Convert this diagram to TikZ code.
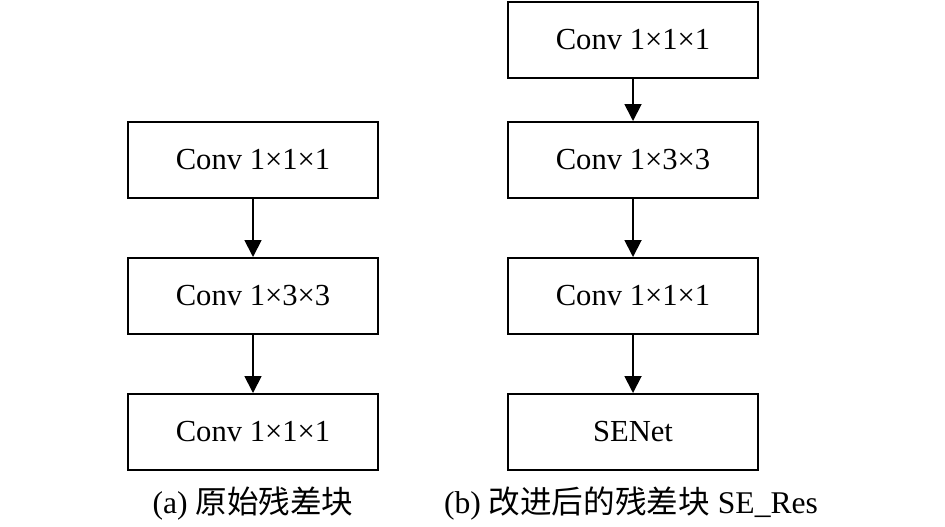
\documentclass[tikz,border=0pt]{standalone}
\usepackage{fontspec}
\setmainfont{Liberation Serif}
\newfontfamily\cjk{Noto Sans CJK SC}
\usepackage{tikz}
\usetikzlibrary{arrows.meta, positioning}
\tikzset{%
	every block/.style={
		rectangle,
		draw,
		line width=1pt,
		minimum width=125pt,
		minimum height=38pt,
		inner sep=0pt,
		font=\fontsize{15.3}{18}\selectfont
	},
	flow arrow/.style={
		line width=0.9pt,
		-{Triangle[length=8.5pt, width=8.5pt]}
	},
	caption text/.style={
		font=\fontsize{15.8}{20}\selectfont
	},
}

\begin{document}
\begin{tikzpicture}[x=0.5pt, y=-0.5pt]
			
			\useasboundingbox (0,0) rectangle (945,526);
			
			% (a) original block
			\node[every block] (a1) at (253,160) {Conv 1×1×1};
			\node[every block] (a2) at (253,296) {Conv 1×3×3};
			\node[every block] (a3) at (253,432) {Conv 1×1×1};
			
			% (b) improved block
			\node[every block] (b0) at (633,40) {Conv 1×1×1};
			\node[every block] (b1) at (633,160) {Conv 1×3×3};
			\node[every block] (b2) at (633,296) {Conv 1×1×1};
			\node[every block] (b3) at (633,432) {SENet};
			
			% Arrows
			\draw[flow arrow] (a1) -- (a2);
			\draw[flow arrow] (a2) -- (a3);
			\draw[flow arrow] (b0) -- (b1);
			\draw[flow arrow] (b1) -- (b2);
			\draw[flow arrow] (b2) -- (b3);
			
			% Captions
			\node[caption text] (capa) at (253,504) {(a) {\cjk 原始残差块}};
			\node[caption text] (capb) at (631,504) {(b) {\cjk 改进后的残差块} SE\_Res};
			
		\end{tikzpicture}
\end{document}
